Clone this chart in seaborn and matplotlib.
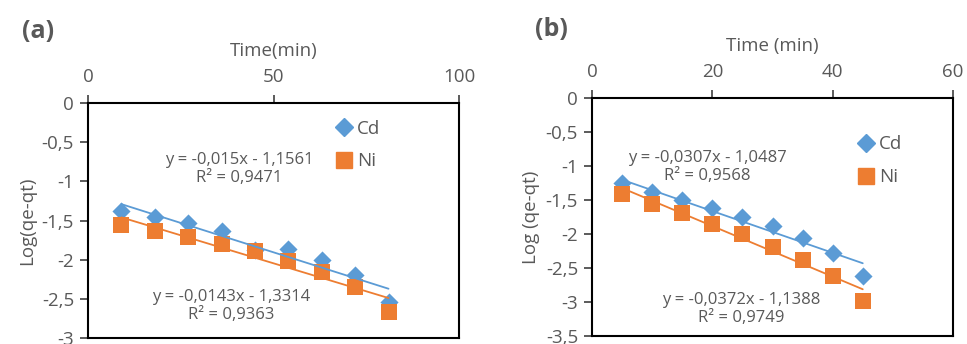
import numpy as np
import pandas as pd
import seaborn as sns
import matplotlib.pyplot as plt
from matplotlib.ticker import FuncFormatter, MultipleLocator
from matplotlib.lines import Line2D

# ---- data ----
time_a = [9, 18, 27, 36, 45, 54, 63, 72, 81]
cd_a = [-1.38, -1.46, -1.53, -1.63, -1.88, -1.86, -2.00, -2.20, -2.54]
ni_a = [-1.56, -1.63, -1.71, -1.80, -1.89, -2.02, -2.16, -2.35, -2.67]
fit_cd_a = (-0.015, -1.1561, 0.9471)
fit_ni_a = (-0.0143, -1.3314, 0.9363)

time_b = [5, 10, 15, 20, 25, 30, 35, 40, 45]
cd_b = [-1.25, -1.38, -1.50, -1.62, -1.75, -1.88, -2.06, -2.28, -2.62]
ni_b = [-1.41, -1.56, -1.69, -1.85, -2.00, -2.19, -2.38, -2.62, -2.99]
fit_cd_b = (-0.0307, -1.0487, 0.9568)
fit_ni_b = (-0.0372, -1.1388, 0.9749)

BLUE = "#5B9BD5"
ORANGE = "#ED7D31"
GRAY = "#595959"

sns.set_style("white")
plt.rcParams["font.family"] = ["Open Sans", "DejaVu Sans"]

fig = plt.figure(figsize=(9.67, 3.44), dpi=100)
ax_a = fig.add_axes([88/967, (344-338)/344, (459-88)/967, (338-103)/344])
ax_b = fig.add_axes([592/967, (344-336)/344, (953-592)/967, (336-98)/344])


def comma(v, pos):
    s = f"{v:g}"
    return s.replace(".", ",")


def fmt_num(v):
    return f"{v}".replace(".", ",")


def draw(ax, t, cd, ni, fcd, fni, xmax, xstep, ymin, xlabel, ylabel,
         leg_anchor, eq_cd_pos, eq_ni_pos):
    sns.scatterplot(x=t, y=cd, color=BLUE, marker="D", s=85, linewidth=0,
                    ax=ax, zorder=3)
    sns.scatterplot(x=t, y=ni, color=ORANGE, marker="s", s=140, linewidth=0,
                    ax=ax, zorder=3)
    for (m, b, r2), col in ((fcd, BLUE), (fni, ORANGE)):
        xs = np.array([min(t), max(t)])
        sns.lineplot(x=xs, y=m * xs + b, color=col, lw=1.3, ax=ax, zorder=4)

    ax.set_xlim(0, xmax)
    ax.set_ylim(ymin, 0)
    ax.xaxis.set_major_locator(MultipleLocator(xstep))
    ax.yaxis.set_major_locator(MultipleLocator(0.5))
    ax.yaxis.set_major_formatter(FuncFormatter(comma))
    ax.xaxis.tick_top()
    ax.xaxis.set_label_position("top")
    ax.tick_params(axis="both", direction="out", length=6, width=1.2,
                   color="#404040", labelcolor=GRAY, labelsize=13.5)
    ax.tick_params(axis="x", pad=6, top=True, bottom=False)
    ax.tick_params(axis="y", left=True, pad=4)
    for sp in ax.spines.values():
        sp.set_color("#000000")
        sp.set_linewidth(1.5)
    ax.set_xlabel(xlabel, color=GRAY, fontsize=13.5, labelpad=9)
    ax.set_ylabel(ylabel, color=GRAY, fontsize=13.5, labelpad=4)

    handles = [
        Line2D([], [], marker="D", ls="", color=BLUE, markersize=9),
        Line2D([], [], marker="s", ls="", color=ORANGE, markersize=12),
    ]
    ax.legend(handles, ["Cd", "Ni"], loc="center left",
              bbox_to_anchor=leg_anchor, frameon=False, fontsize=13.5,
              labelspacing=0.8, handletextpad=0.1, handlelength=1.2,
              labelcolor=GRAY, borderaxespad=0)

    for (m, b, r2), pos in ((fcd, eq_cd_pos), (fni, eq_ni_pos)):
        sign = "-" if b < 0 else "+"
        txt = f"y = {fmt_num(m)}x {sign} {fmt_num(abs(b))}\nR² = {fmt_num(r2)}"
        ax.text(pos[0], pos[1], txt, transform=ax.transAxes, ha="center",
                va="center", color=GRAY, fontsize=12, linespacing=1.2)


draw(ax_a, time_a, cd_a, ni_a, fit_cd_a, fit_ni_a, 100, 50, -3,
     "Time(min)", "Log(qe-qt)",
     ((325-88)/371, 1 - (145-103)/235),
     ((239-88)/371, 1 - (169-103)/235),
     ((231-88)/371, 1 - (306-103)/235))

draw(ax_b, time_b, cd_b, ni_b, fit_cd_b, fit_ni_b, 60, 20, -3.5,
     "Time (min)", "Log (qe-qt)",
     ((847-592)/361, 1 - (161-98)/238),
     ((707-592)/361, 1 - (167-98)/238),
     ((741-592)/361, 1 - (309-98)/238))

fig.text(22/967, 1 - 32/344, "(a)", fontsize=18, fontweight="bold",
         color=GRAY, va="center", ha="left")
fig.text(535/967, 1 - 30/344, "(b)", fontsize=18, fontweight="bold",
         color=GRAY, va="center", ha="left")

fig.savefig("out.png", dpi=100, facecolor="white")
